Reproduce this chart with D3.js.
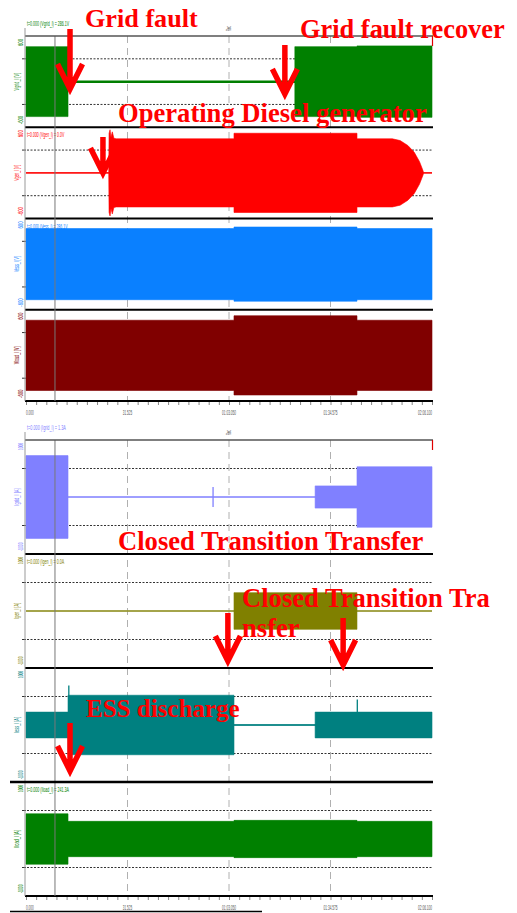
<!DOCTYPE html>
<html><head><meta charset="utf-8">
<script src="https://cdn.jsdelivr.net/npm/d3@7"></script>
<style>body{margin:0;background:#fff}svg{display:block}</style>
</head><body>
<svg id="chart" width="517" height="913"></svg>
<script>
// ---- time axis (seconds) ----
const tickValues = [0, 31.525, 63.05, 94.575, 126.1];
const tickLabels = ["0.000", "31.525", "01:03.050", "01:34.575", "02:06.100"];
const timeDomain = [0, 126.1];
const cursorTime = 9.0;

// ---- waveform envelopes: [time s, peak value] ----
const gridVoltage = [[0,460],[13.05,460],[13.05,0],[83.5,0],[83.5,460],[102.8,460],[102.8,470],[126.1,470]];
const genVoltage = [[0,0],[25.7,0],[25.8,520],[26.1,567],[26.4,470],[26.8,540],[27.3,455],[28,448],[64.6,448],[64.6,521],[102.8,521],[102.8,448],[113.8,448],[116.2,425],[118.6,360],[120.6,270],[122.2,150],[123.3,30],[123.5,0],[126.1,0]];
const essVoltage = [[0,468],[64.6,468],[64.6,488],[102.8,488],[102.8,468],[126.1,468]];
const loadVoltage = [[0,462],[64.6,462],[64.6,521],[102.8,521],[102.8,462],[126.1,462]];
const gridCurrent = [[0,726],[13.05,726],[13.05,0],[89.8,0],[89.8,195],[102.8,195],[102.8,531],[126.1,531]];
const genCurrent = [[0,0],[64.6,0],[64.6,322],[102.8,322],[102.8,0],[126.1,0]];
const essCurrent = [[0,226],[13.05,226],[13.05,522],[64.6,522],[64.6,0],[89.8,0],[89.8,226],[126.1,226]];
const loadCurrent = [[0,442],[13.05,442],[13.05,310],[64.6,310],[64.6,327],[102.8,327],[102.8,310],[126.1,310]];

// ---- isolated transients: [time s, low, high] ----
const gridCurrentSpikes = [[58.1,-177,177]];
const essCurrentSpikes = [[13.3,0,693],[102.9,0,447]];

// ---- cursor readouts and channel names ----
const voltageNames = ["Vgrid_l","Vgen_l","Vess_l","Vload_l"];
const currentNames = ["Igrid_l","Igen_l","Iess_l","Iload_l"];
const voltageReadouts = ["t=0.000 (Vgrid_l) = 286.1V","t=0.000 (Vgen_l) = 0.0V","t=0.000 (Vess_l) = 286.1V",""];
const currentReadouts = ["t=0.000 (Igrid_l) = 1.3A","t=0.000 (Igen_l) = 0.0A","","t=0.000 (Iload_l) = 241.3A"];

// ---- event annotations ----
const eventLabels = ["Grid fault","Grid fault recover","Operating Diesel generator","Closed Transition Transfer","Closed Transition Tra","nsfer","ESS discharge"];
const eventTimes = [13.67, 80.4, 23.9, 62.7, 98.5, 13.67];

const svg = d3.select("#chart");
const x = d3.scaleLinear().domain(timeDomain).range([26, 432]);
const X0 = 25, X1 = 433;

const colors = ["#008000","#ff0000","#0a80ff","#800000","#8080ff","#808000","#008080","#008000"];

const groups = [
  {top: 36, ph: 91.25, range: 600, unit: "V", names: voltageNames, readouts: voltageReadouts,
   series: [gridVoltage, genVoltage, essVoltage, loadVoltage], spikes: [[],[],[],[]],
   lines: [{c:"#008000",w:2.5},{c:"#ff0000",w:1.4},null,null], colors: colors.slice(0,4)},
  {top: 440, ph: 114, range: 1000, unit: "A", names: currentNames, readouts: currentReadouts,
   series: [gridCurrent, genCurrent, essCurrent, loadCurrent], spikes: [gridCurrentSpikes,[],essCurrentSpikes,[]],
   lines: [{c:"#8080ff",w:1},{c:"#b8b878",w:1.6},{c:"#008080",w:1.6},null], colors: colors.slice(4)}
];

// Small condensed recorder text: squeezed horizontally to a target width
const tinyFont = "Liberation Sans, Arial, sans-serif";
function tinyText(sel, str, width, o) {
  const t = sel.append("text").text(str)
    .attr("font-family", tinyFont).attr("font-size", 6.5)
    .attr("text-anchor", o.anchor || "start").attr("fill", o.fill);
  const natural = t.node().getComputedTextLength() || 1;
  const sx = width / natural;
  t.attr("transform", `translate(${o.tx},${o.ty})${o.rot ? " rotate(" + o.rot + ")" : ""} scale(${sx},1)`);
  return t;
}

groups.forEach((G) => {
  const bottom = G.top + G.ph * 4;
  const gg = svg.append("g");

  // vertical grid: dashed at major ticks
  tickValues.slice(1, -1).forEach(v => {
    gg.append("line").attr("x1", x(v)).attr("x2", x(v)).attr("y1", G.top).attr("y2", bottom)
      .attr("stroke", "#b0b0b0").attr("stroke-width", 1).attr("stroke-dasharray", "7,5");
  });

  G.series.forEach((data, i) => {
    const pTop = G.top + i * G.ph, pBot = pTop + G.ph;
    const y = d3.scaleLinear().domain([-G.range, G.range]).range([pBot, pTop]);
    const pg = gg.append("g");

    // dotted reference levels at half range
    [G.range / 2, -G.range / 2].forEach(v => {
      pg.append("line").attr("x1", X0 + 2).attr("x2", X1).attr("y1", y(v)).attr("y2", y(v))
        .attr("stroke", "#333").attr("stroke-width", 1).attr("stroke-dasharray", "2,1.5");
      pg.append("line").attr("x1", X0 - 3).attr("x2", X0 + 1).attr("y1", y(v)).attr("y2", y(v))
        .attr("stroke", "#333").attr("stroke-width", 1);
    });

    // zero trace
    const ln = G.lines[i];
    if (ln) {
      pg.append("line").attr("x1", x(timeDomain[0])).attr("x2", x(timeDomain[1]))
        .attr("y1", y(0)).attr("y2", y(0)).attr("stroke", ln.c).attr("stroke-width", ln.w);
    }

    // waveform envelope
    const area = d3.area().x(d => x(d[0])).y0(d => y(-d[1])).y1(d => y(d[1]));
    pg.append("path").datum(data).attr("d", area).attr("fill", G.colors[i])
      .attr("stroke", G.colors[i]).attr("stroke-width", 0.6);

    // transients
    G.spikes[i].forEach(s => {
      pg.append("line").attr("x1", x(s[0])).attr("x2", x(s[0])).attr("y1", y(s[1])).attr("y2", y(s[2]))
        .attr("stroke", G.colors[i]).attr("stroke-width", 1.3);
    });

    // channel labels on the left (rotated)
    const cy = (pTop + pBot) / 2;
    const nm = G.names[i] + " [" + G.unit + "]";
    tinyText(pg, nm, nm.length * 1.6, {tx: 19, ty: cy, rot: -90, anchor: "middle", fill: G.colors[i]});
    tinyText(pg, String(G.range), 7, {tx: 23, ty: pTop + 3, rot: -90, anchor: "end", fill: G.colors[i]});
    tinyText(pg, String(-G.range), 8.5, {tx: 23, ty: pBot - 3, rot: -90, anchor: "start", fill: G.colors[i]});

    // cursor readout
    if (G.readouts[i]) {
      tinyText(pg, G.readouts[i], G.readouts[i].length * 1.62,
        {tx: 27, ty: i === 0 ? pTop - 10 : pTop + 10, fill: G.colors[i]});
    }

    // panel separator
    pg.append("line").attr("x1", X0).attr("x2", X1)
      .attr("y1", pBot).attr("y2", pBot).attr("stroke", "#000").attr("stroke-width", 2);
  });

  // cursor line
  gg.append("line").attr("x1", x(cursorTime)).attr("x2", x(cursorTime)).attr("y1", G.top).attr("y2", bottom)
    .attr("stroke", "#777").attr("stroke-width", 1);

  // top frame, left spine and end marker
  gg.append("line").attr("x1", X0).attr("x2", X1).attr("y1", G.top).attr("y2", G.top)
    .attr("stroke", "#555").attr("stroke-width", 1.3);
  gg.append("line").attr("x1", X0).attr("x2", X0).attr("y1", G.top - 8).attr("y2", bottom)
    .attr("stroke", "#999").attr("stroke-width", 1);
  gg.append("line").attr("x1", X1 - 0.5).attr("x2", X1 - 0.5).attr("y1", G.top).attr("y2", G.top + 10)
    .attr("stroke", "#e00000").attr("stroke-width", 1.2);
  tinyText(gg, "Rec", 5, {tx: x(63.05) + 2, ty: G.top - 5, rot: -90, anchor: "start", fill: "#666"});

  // time axis with minor ticks
  const ax = d3.axisBottom(x).tickValues(d3.range(0, 126.11, 3.1525)).tickSize(3).tickFormat("");
  const axg = gg.append("g").attr("transform", `translate(0,${bottom + 1})`).call(ax);
  axg.select(".domain").remove();
  axg.selectAll(".tick line").attr("stroke", "#888");
  tickValues.forEach((v, k) => {
    tinyText(gg, tickLabels[k], tickLabels[k].length * 1.55, {tx: x(v), ty: bottom + 14, fill: "#555",
      anchor: k === 0 ? "start" : (k === tickValues.length - 1 ? "end" : "middle")});
  });
});

// extended separators at the left edge
svg.append("line").attr("x1", 10).attr("x2", X1).attr("y1", 782).attr("y2", 782).attr("stroke", "#000").attr("stroke-width", 2.5);
svg.append("line").attr("x1", 10).attr("x2", 262).attr("y1", 911.5).attr("y2", 911.5).attr("stroke", "#000").attr("stroke-width", 1.5);

// ---- annotations ----
const ann = svg.append("g").attr("font-family", "Liberation Serif, Times New Roman, serif")
  .attr("font-weight", "bold").attr("fill", "#ff0000");
const labelPos = [[85,27,26.2],[300,38,26.4],[118,122,26.6],[118,550,26.6],[242,607,26.6],[242,637,26.6],[86,717,25]];
eventLabels.forEach((s, k) => {
  ann.append("text").attr("x", labelPos[k][0]).attr("y", labelPos[k][1]).attr("font-size", labelPos[k][2]).text(s);
});
const arrowSpans = [[29,89],[45,94],[137,173],[613,661],[618,665],[723,771]];
eventTimes.forEach((t, k) => {
  const ax = x(t), [y0, y1] = arrowSpans[k];
  ann.append("path")
    .attr("d", `M${ax},${y0}L${ax},${y1 - 3}M${ax - 12.5},${y1 - 25}L${ax},${y1}L${ax + 12.5},${y1 - 25}`)
    .attr("fill", "none").attr("stroke", "#ff0000").attr("stroke-width", 5.5)
    .attr("stroke-linejoin", "miter");
});
</script>
</body></html>
